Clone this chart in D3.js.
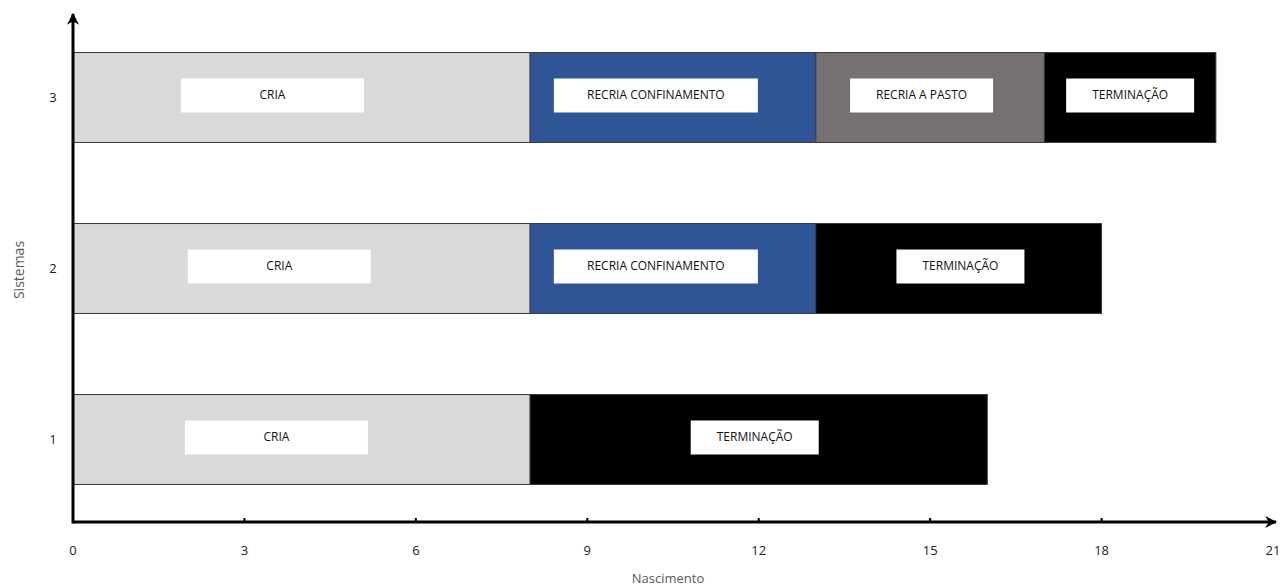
<!DOCTYPE html>
<html>
<head>
<meta charset="utf-8">
<script src="https://cdn.jsdelivr.net/npm/d3@7"></script>
<style>
  body { margin: 0; background: #fff; }
  svg text { font-family: "Open Sans", "Noto Sans", sans-serif; }
</style>
</head>
<body>
<svg id="chart" width="1285" height="588"></svg>
<script>
// Production systems (y categories) and the x ticks
const systems = ["1", "2", "3"];
const xTicks = [0, 3, 6, 9, 12, 15, 18, 21];

// Phase names and fill colours
const phases = ["CRIA", "RECRIA CONFINAMENTO", "RECRIA A PASTO", "TERMINAÇÃO"];
const phaseColors = ["#d9d9d9", "#2f5597", "#767171", "#000000"];

// Phase segments per system: [start, end] in months, null when absent
const system1 = [[0, 8], null, null, [8, 16]];
const system2 = [[0, 8], [8, 13], null, [13, 18]];
const system3 = [[0, 8], [8, 13], [13, 17], [17, 20]];

// Where each phase label box is centred (months)
const labelCenters1 = [3.56, null, null, 11.93];
const labelCenters2 = [3.61, 10.2, null, 15.53];
const labelCenters3 = [3.49, 10.2, 14.85, 18.5];

const segmentsBySystem = { "1": system1, "2": system2, "3": system3 };
const labelsBySystem = { "1": labelCenters1, "2": labelCenters2, "3": labelCenters3 };

const svg = d3.select("#chart");
const x = d3.scaleLinear().domain([0, 21]).range([73, 1273]);
const y = d3.scalePoint().domain(systems).range([525, 12]).padding(0.5);
const barH = y.step() * 0.526;
const axisY = 522;

// Label box sizes in pixels, per phase
const boxW = [183, 204, 143, 128];
const boxH = 34;

const rows = [];
systems.forEach(s => {
  segmentsBySystem[s].forEach((seg, i) => {
    if (seg) rows.push({ sys: s, phase: i, start: seg[0], end: seg[1], label: labelsBySystem[s][i] });
  });
});

// Bars
svg.append("g").selectAll("rect").data(rows).join("rect")
  .attr("x", d => x(d.start))
  .attr("y", d => y(d.sys) - barH / 2)
  .attr("width", d => x(d.end) - x(d.start))
  .attr("height", barH)
  .attr("fill", d => phaseColors[d.phase])
  .attr("stroke", "#3a3a3a")
  .attr("stroke-width", 1);

// Label boxes and texts
const lab = svg.append("g").selectAll("g").data(rows).join("g")
  .attr("transform", d => `translate(${x(d.label)},${y(d.sys) - 2})`);
lab.append("rect")
  .attr("x", d => -boxW[d.phase] / 2)
  .attr("y", -boxH / 2)
  .attr("width", d => boxW[d.phase])
  .attr("height", boxH)
  .attr("fill", "#fff");
lab.append("text")
  .attr("text-anchor", "middle")
  .attr("dy", "0.3em")
  .attr("font-size", 12)
  .attr("fill", "#111")
  .text(d => phases[d.phase]);

// Axes with arrowheads
const defs = svg.append("defs");
defs.append("marker").attr("id", "arrow")
  .attr("viewBox", "0 0 10 10").attr("refX", 9).attr("refY", 5)
  .attr("markerWidth", 4).attr("markerHeight", 4).attr("orient", "auto")
  .append("path").attr("d", "M0,0 L10,5 L0,10 L3,5 Z").attr("fill", "#000");

svg.append("line")
  .attr("x1", x(0)).attr("y1", axisY).attr("x2", x(21) + 3).attr("y2", axisY)
  .attr("stroke", "#000").attr("stroke-width", 3)
  .attr("marker-end", "url(#arrow)");
svg.append("line")
  .attr("x1", x(0)).attr("y1", axisY + 1.5).attr("x2", x(0)).attr("y2", 14)
  .attr("stroke", "#000").attr("stroke-width", 3)
  .attr("marker-end", "url(#arrow)");

// X ticks and labels
const xt = svg.append("g").selectAll("g").data(xTicks).join("g")
  .attr("transform", d => `translate(${x(d)},${axisY})`);
xt.filter(d => d > 0 && d < 21).append("line")
  .attr("y1", 0).attr("y2", -4).attr("stroke", "#000").attr("stroke-width", 2);
xt.append("text")
  .attr("y", 33).attr("text-anchor", "middle")
  .attr("font-size", 13).attr("fill", "#222")
  .text(d => d);

// Y labels
svg.append("g").selectAll("text").data(systems).join("text")
  .attr("x", 53).attr("y", d => y(d)).attr("dy", "0.35em")
  .attr("text-anchor", "middle").attr("font-size", 13).attr("fill", "#222")
  .text(d => d);

// Axis titles
svg.append("text")
  .attr("x", 668).attr("y", 583).attr("text-anchor", "middle")
  .attr("font-size", 13).attr("fill", "#595959").text("Nascimento");
svg.append("text")
  .attr("transform", "translate(24,270) rotate(-90)")
  .attr("text-anchor", "middle").attr("font-size", 14).attr("fill", "#595959")
  .text("Sistemas");
</script>
</body>
</html>
